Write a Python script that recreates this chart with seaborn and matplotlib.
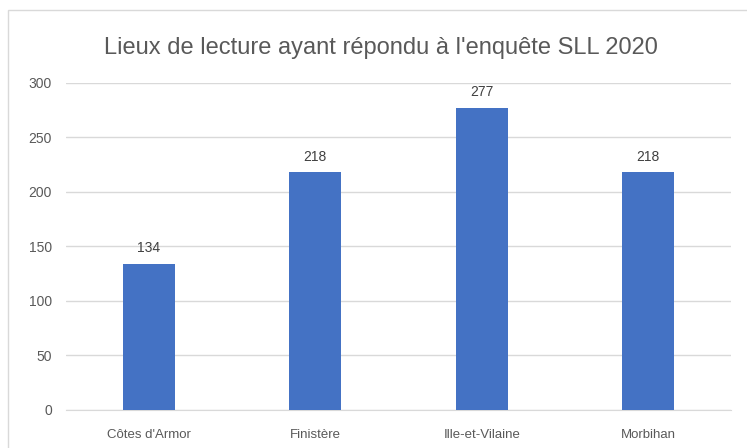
import seaborn as sns
import matplotlib.pyplot as plt
from matplotlib.patches import Rectangle

departements = ["Côtes d'Armor", 'Finistère', 'Ille-et-Vilaine', 'Morbihan']
lieux = [134, 218, 277, 218]
yticks = [0, 50, 100, 150, 200, 250, 300]

sns.set_style('white')
plt.rcParams['font.family'] = ['Liberation Sans', 'DejaVu Sans']

fig = plt.figure(figsize=(7.47, 4.48), dpi=100)
ax = fig.add_axes([0.088, 0.085, 0.891, 0.73])

sns.barplot(x=departements, y=lieux, color='#4472C4', saturation=1, width=0.313,
            linewidth=0, ax=ax, zorder=3)
for i, v in enumerate(lieux):
    ax.text(i, v + 8, str(v), ha='center', va='bottom', fontsize=10, color='#404040')

ax.set_ylim(0, 300)
ax.set_yticks(yticks)
ax.grid(axis='y', color='#d9d9d9', linewidth=1, zorder=0)
for s in ['top', 'right', 'left']:
    ax.spines[s].set_visible(False)
ax.spines['bottom'].set_color('#d9d9d9')
ax.tick_params(axis='y', length=0, labelsize=10, labelcolor='#595959', pad=10)
ax.tick_params(axis='x', length=0, labelsize=9.5, labelcolor='#595959', pad=14)
ax.set_xlim(-0.5, 3.5)

fig.text(0.51, 0.893, "Lieux de lecture ayant répondu à l'enquête SLL 2020",
         ha='center', va='center', fontsize=17, color='#595959')

fig.patches.append(Rectangle((8 / 747, -0.1), 1.1, 1.1 - 10 / 448, transform=fig.transFigure,
                             fill=False, edgecolor='#d9d9d9', linewidth=1))

fig.savefig('out.png', dpi=100)
